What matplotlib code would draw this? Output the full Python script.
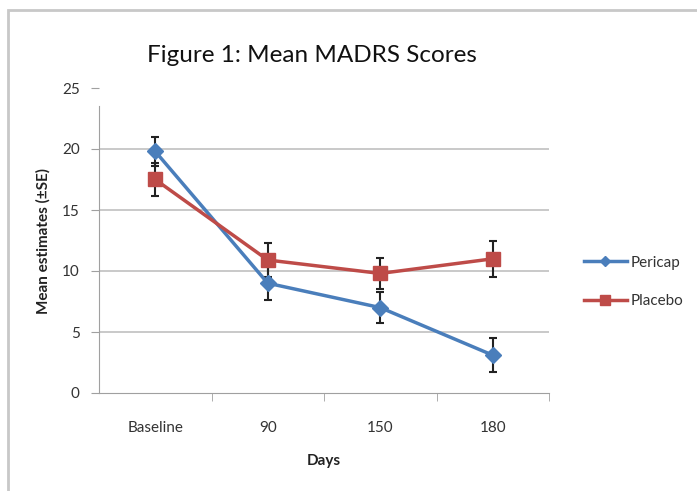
import numpy as np
import matplotlib.pyplot as plt
from matplotlib.patches import Rectangle

# data
days = ['Baseline', '90', '150', '180']
pericap = [19.8, 9.0, 7.0, 3.1]
pericap_se = [1.2, 1.4, 1.3, 1.4]
placebo = [17.5, 10.9, 9.8, 11.0]
placebo_se = [1.35, 1.4, 1.3, 1.5]

plt.rcParams['font.family'] = ['Lato', 'DejaVu Sans']

fig = plt.figure(figsize=(6.97, 4.91), dpi=100)
W, H = 697, 491

# frame around the figure
fig.patches.append(Rectangle((8/W, -0.01), 1.0, 1 - 10/H + 0.01, transform=fig.transFigure,
                             fill=False, edgecolor='#c8c8c8', linewidth=2))

ax = fig.add_axes([99/W, 1 - 393/H, 450/W, (393 - 88)/H])
x = np.arange(len(days))

ax.errorbar(x, pericap, yerr=pericap_se, color='#4a7ebb', lw=2.5, marker='D', ms=8,
            ecolor='#222222', elinewidth=1.5, capsize=3, capthick=1.5, label='Pericap', zorder=3)
ax.errorbar(x, placebo, yerr=placebo_se, color='#be4b48', lw=2.5, marker='s', ms=10,
            ecolor='#222222', elinewidth=1.5, capsize=3, capthick=1.5, label='Placebo', zorder=3)

ax.set_xlim(-0.5, 3.5)
ax.set_ylim(0, 25)
ax.set_yticks([0, 5, 10, 15, 20, 25])
for v in [5, 10, 15, 20]:
    ax.axhline(v, color='#c0c0c0', lw=1.2, zorder=0)

ax.set_xticks(x)
ax.set_xticklabels(days)
ax.set_xticks([0.5, 1.5, 2.5, 3.5], minor=True)
ax.tick_params(axis='x', which='major', length=0, pad=20, labelsize=11, colors='#333333')
ax.tick_params(axis='x', which='minor', length=6, color='#a0a0a0')
ax.tick_params(axis='y', length=6, color='#a0a0a0', labelsize=11, labelcolor='#333333', pad=8)

for s in ['top', 'right']:
    ax.spines[s].set_visible(False)
ax.spines['left'].set_color('#a0a0a0')
ax.spines['bottom'].set_color('#a0a0a0')
ax.spines['left'].set_bounds(0, 23.5)

ax.set_ylabel('Mean estimates (\u00b1SE)', fontsize=11, fontweight='bold', color='#222222', labelpad=8)
ax.set_xlabel('Days', fontsize=11, fontweight='bold', color='#222222', labelpad=14)

fig.text(147/W, 1 - 55/H, 'Figure 1: Mean MADRS Scores', fontsize=17.5, va='center', ha='left',
         color='#111111')

handles, labels = ax.get_legend_handles_labels()
handles = [h[0] for h in handles]
fig.legend(handles, labels, loc='center left', bbox_to_anchor=(570/W, 1 - 282/H), frameon=False,
           fontsize=11, handlelength=2.8, handletextpad=0.3, labelspacing=1.6, markerscale=0.7,
           labelcolor='#333333')

fig.savefig('out.png', dpi=100)
